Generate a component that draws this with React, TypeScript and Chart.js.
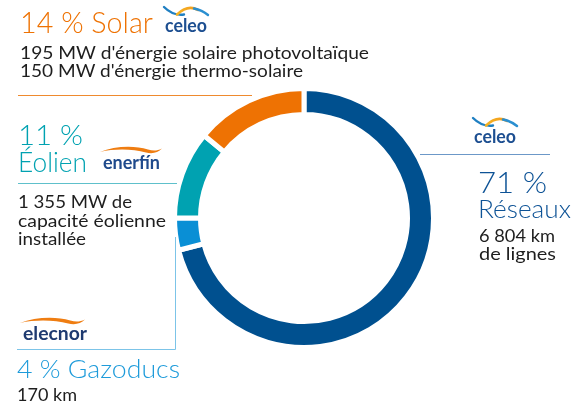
import React, { useEffect, useRef } from "react";
import { Chart, registerables } from "chart.js";

Chart.register(...registerables);

const categories = ["Réseaux", "Gazoducs", "Éolien", "Solar"];
const shares = [71, 4, 11, 14];
const segmentColors = ["#00508F", "#0A8FD5", "#00A2B1", "#EE7203"];

const FONT = "Lato, 'Open Sans', 'DejaVu Sans', sans-serif";

type T = { s: string; x: number; y: number; size: number; w: number; color: string; weight?: number };

const texts: T[] = [
  { s: `${shares[3]} % Solar`, x: 20, y: 33, size: 29, w: 133, color: "#EE7203", weight: 300 },
  { s: "195 MW d'énergie solaire photovoltaïque", x: 20, y: 59, size: 18, w: 349, color: "#1e1e1e" },
  { s: "150 MW d'énergie thermo-solaire", x: 20, y: 77, size: 18, w: 283, color: "#1e1e1e" },
  { s: `${shares[2]} %`, x: 18, y: 145, size: 28, w: 65, color: "#00A2B1", weight: 300 },
  { s: "Éolien", x: 18, y: 172, size: 28, w: 69, color: "#00A2B1", weight: 300 },
  { s: "1 355 MW de", x: 18, y: 208, size: 18, w: 114, color: "#1e1e1e" },
  { s: "capacité éolienne", x: 18, y: 226.5, size: 18, w: 148, color: "#1e1e1e" },
  { s: "installée", x: 18, y: 245, size: 18, w: 68, color: "#1e1e1e" },
  { s: `${shares[1]} % Gazoducs`, x: 17, y: 378, size: 25, w: 163, color: "#1E9BDA", weight: 300 },
  { s: "170 km", x: 17, y: 401, size: 18, w: 60, color: "#1e1e1e" },
  { s: `${shares[0]} %`, x: 478, y: 193, size: 29, w: 69, color: "#0E5396", weight: 300 },
  { s: "Réseaux", x: 478, y: 218, size: 26, w: 93, color: "#0E5396", weight: 300 },
  { s: "6 804 km", x: 479, y: 242, size: 18, w: 76, color: "#1e1e1e" },
  { s: "de lignes", x: 479, y: 260, size: 18, w: 77, color: "#1e1e1e" },
];

function Celeo({ x, y }: { x: number; y: number }) {
  // x,y = left of wave top
  return (
    <g transform={`translate(${x},${y})`}>
      <defs>
        <linearGradient id={`cg${x}`} x1="0" x2="1" y1="0" y2="0">
          <stop offset="0" stopColor="#F5B323" />
          <stop offset="1" stopColor="#F39A1E" />
        </linearGradient>
      </defs>
      <path d="M0,1 Q9,10 20,8.5" stroke="#1F7FC2" strokeWidth="2.4" fill="none" strokeLinecap="round" />
      <path d="M13,8.5 Q24,-2 34,4" stroke={`url(#cg${x})`} strokeWidth="2.6" fill="none" strokeLinecap="round" />
      <path d="M30,2.5 Q38,4 44,9" stroke="#2A8FD0" strokeWidth="2.4" fill="none" strokeLinecap="round" />
      <text x={1} y={26} fontFamily={FONT} fontWeight={700} fontSize={18} fill="#1D4F91"
        textLength={42} lengthAdjust="spacingAndGlyphs">celeo</text>
    </g>
  );
}

function Swoosh({ x, y, w, text, tw, color }: { x: number; y: number; w: number; text: string; tw: number; color: string }) {
  const k = w / 62;
  return (
    <g transform={`translate(${x},${y})`}>
      <path
        transform={`scale(${k},1)`}
        d="M0,6 C14,0 34,-1 48,3.5 C53,5 57,5 62,2.5 C58,7 52,8 46,6.5 C33,3 15,2.5 0,6 Z"
        fill="#EF7D11"
      />
      <text x={3} y={23} fontFamily={FONT} fontWeight={700} fontSize={18} fill={color}
        textLength={tw} lengthAdjust="spacingAndGlyphs">{text}</text>
    </g>
  );
}

export default function App() {
  const ref = useRef<HTMLCanvasElement | null>(null);

  useEffect(() => {
    if (!ref.current) return;
    const chart = new Chart(ref.current, {
      type: "doughnut",
      data: {
        labels: categories,
        datasets: [
          {
            data: shares,
            backgroundColor: segmentColors,
            borderColor: "#ffffff",
            borderWidth: 5,
            hoverOffset: 0,
          },
        ],
      },
      options: {
        responsive: false,
        animation: false,
        events: [],
        radius: 129.5,
        cutout: "79.92%",
        layout: { padding: 0 },
        plugins: { legend: { display: false }, tooltip: { enabled: false } },
      },
    });
    return () => chart.destroy();
  }, []);

  return (
    <div style={{ position: "fixed", left: 0, top: 0, width: 575, height: 406, background: "#fff", overflow: "hidden" }}>
      <canvas ref={ref} width={260} height={260} style={{ position: "absolute", left: 174, top: 88, width: 260, height: 260 }} />
      <svg width={575} height={406} style={{ position: "absolute", left: 0, top: 0, pointerEvents: "none" }}>
        {/* connector lines */}
        <line x1={18} x2={252} y1={95.5} y2={95.5} stroke="#EF8A2E" strokeWidth={1} />
        <line x1={18} x2={177} y1={183.5} y2={183.5} stroke="#5EC0CB" strokeWidth={1} />
        <line x1={420} x2={550} y1={154.5} y2={154.5} stroke="#6C98C8" strokeWidth={1} />
        <polyline points="175.5,237 175.5,349.5 17,349.5" fill="none" stroke="#7CC4E8" strokeWidth={1} />
        {/* logos */}
        <Celeo x={164} y={6} />
        <Celeo x={473} y={117} />
        <Swoosh x={100} y={146} w={62} text="enerfín" tw={57} color="#1F4A8C" />
        <Swoosh x={20} y={317} w={65} text="elecnor" tw={64} color="#1E3A70" />
        {texts.map((t, i) => (
          <text key={i} x={t.x} y={t.y} fontFamily={FONT} fontSize={t.size} fontWeight={t.weight ?? 400}
            fill={t.color} textLength={t.w} lengthAdjust="spacingAndGlyphs">{t.s}</text>
        ))}
      </svg>
    </div>
  );
}
